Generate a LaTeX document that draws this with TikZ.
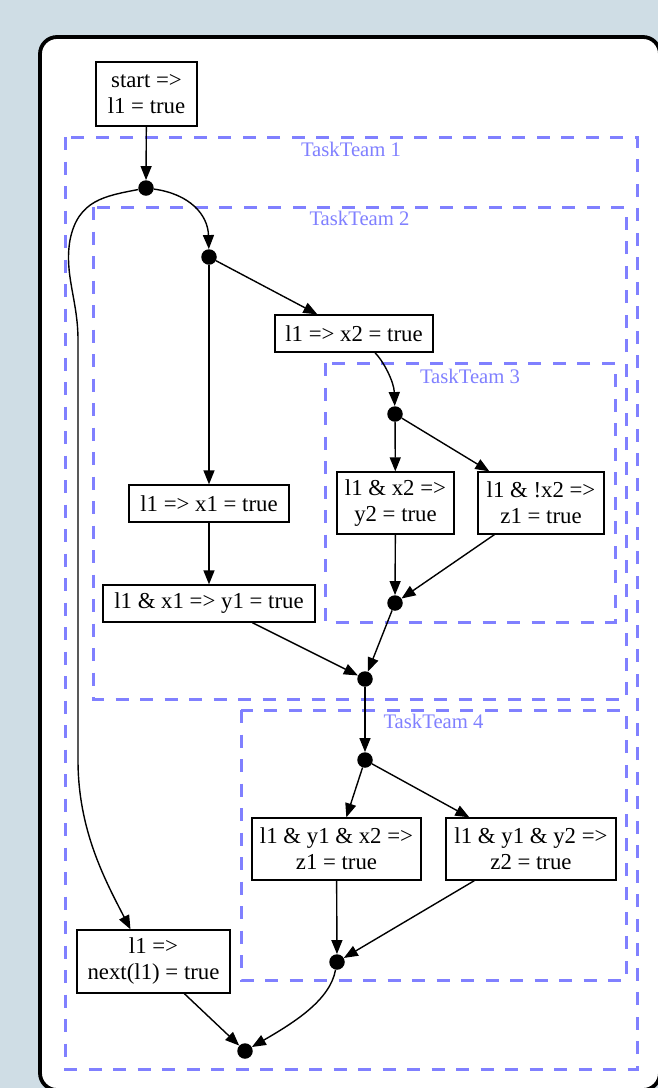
\documentclass[tikz,border=0pt]{standalone}
\usepackage{fontspec}
\setmainfont{Liberation Serif}
\usetikzlibrary{arrows.meta}
\definecolor{pagebg}{RGB}{207,221,229}
\definecolor{teamblue}{RGB}{128,128,255}

\begin{document}
\begin{tikzpicture}[x=1pt,y=-1pt,
  every node/.style={font=\fontsize{22.8}{26}\selectfont},
  task/.style={draw, line width=1.3pt, inner sep=0pt, align=center},
  junction/.style={circle, fill=black, inner sep=0pt, minimum size=15.5pt},
  flow/.style={line width=1.4pt, -{Triangle[length=14pt,width=11pt]}},
  team/.style={draw=teamblue, line width=3pt, dash pattern=on 13pt off 11.5pt},
  teamlabel/.style={text=teamblue, anchor=base, font=\fontsize{20.7}{24}\selectfont},
]
% page background and the rounded white panel
\fill[pagebg] (0,0) rectangle (658,1088);
\useasboundingbox (0,0) rectangle (658,1088);
\draw[line width=3.8pt, fill=white, rounded corners=17pt] (40,37) rectangle (660,1090);

% task teams (dashed groups)
\draw[team] (65,137) rectangle (637,1069);
\draw[team] (93,207) rectangle (626,699);
\draw[team] (325,363) rectangle (615,622);
\draw[team] (241,710) rectangle (626,980);
\node[teamlabel] (tt1) at (351,156) {TaskTeam 1};
\node[teamlabel] (tt2) at (359.5,225) {TaskTeam 2};
\node[teamlabel] (tt3) at (470,383) {TaskTeam 3};
\node[teamlabel] (tt4) at (433.5,728) {TaskTeam 4};

% rules
\node[task, minimum width=101pt, minimum height=64pt] (start) at (146.5,94) {start =>\\l1 = true};
\node[task, minimum width=158pt, minimum height=37pt] (x2) at (354,333.5) {l1 => x2 = true};
\node[task, minimum width=117pt, minimum height=62pt] (y2) at (395.5,503) {l1 \& x2 =>\\y2 = true};
\node[task, minimum width=126pt, minimum height=62pt] (z1) at (541,503) {l1 \& !x2 =>\\z1 = true};
\node[task, minimum width=160pt, minimum height=37pt] (x1) at (209,503.5) {l1 => x1 = true};
\node[task, minimum width=212pt, minimum height=37pt] (y1) at (209,603.5) {l1 \& x1 => y1 = true};
\node[task, minimum width=169pt, minimum height=62pt] (A) at (336.5,849) {l1 \& y1 \& x2 =>\\z1 = true};
\node[task, minimum width=170pt, minimum height=62pt] (B) at (531,849) {l1 \& y1 \& y2 =>\\z2 = true};
\node[task, minimum width=153pt, minimum height=63pt] (next) at (153.5,961.5) {l1 =>\\next(l1) = true};

% junction points
\node[junction] (d1) at (146,188) {};
\node[junction] (d2) at (209,257) {};
\node[junction] (d3) at (395,414) {};
\node[junction] (d4) at (395,603) {};
\node[junction] (d5) at (365,679) {};
\node[junction] (d6) at (365,760) {};
\node[junction] (d7) at (337,962) {};
\node[junction] (d8) at (245,1051) {};

% connectors
\draw[flow] (start) -- (d1);
\draw[flow] (d1) .. controls (190,194) and (208,215) .. (d2);
\draw[flow] (d1) .. controls (105,196) and (78,200) .. (70,240)
  .. controls (64,275) and (78,300) .. (78,340) -- (78,760)
  .. controls (78,830) and (105,880) .. ([xshift=-23pt]next.north);
\draw[flow] (d2) -- (x1);
\draw[flow] (d2) -- ([xshift=43pt]x2.north west);
\draw[flow] ([xshift=21pt]x2.south) .. controls (384,362) and (394,382) .. (d3);
\draw[flow] (d3) -- (y2);
\draw[flow] (d3) -- ([xshift=12pt]z1.north west);
\draw[flow] (y2) -- (d4);
\draw[flow] ([xshift=17pt]z1.south west) -- (d4);
\draw[flow] (x1) -- (y1);
\draw[flow] ([xshift=150pt]y1.south west) -- (d5);
\draw[flow] (d4) -- (d5);
\draw[flow] (d5) -- (d6);
\draw[flow] (d6) -- ([xshift=95pt]A.north west);
\draw[flow] (d6) -- ([xshift=24pt]B.north west);
\draw[flow] (A) -- (d7);
\draw[flow] ([xshift=29pt]B.south west) -- (d7);
\draw[flow] (d7) .. controls (330,1000) and (295,1022) .. (d8);
\draw[flow] ([xshift=108pt]next.south west) -- (d8);
\end{tikzpicture}
\end{document}
